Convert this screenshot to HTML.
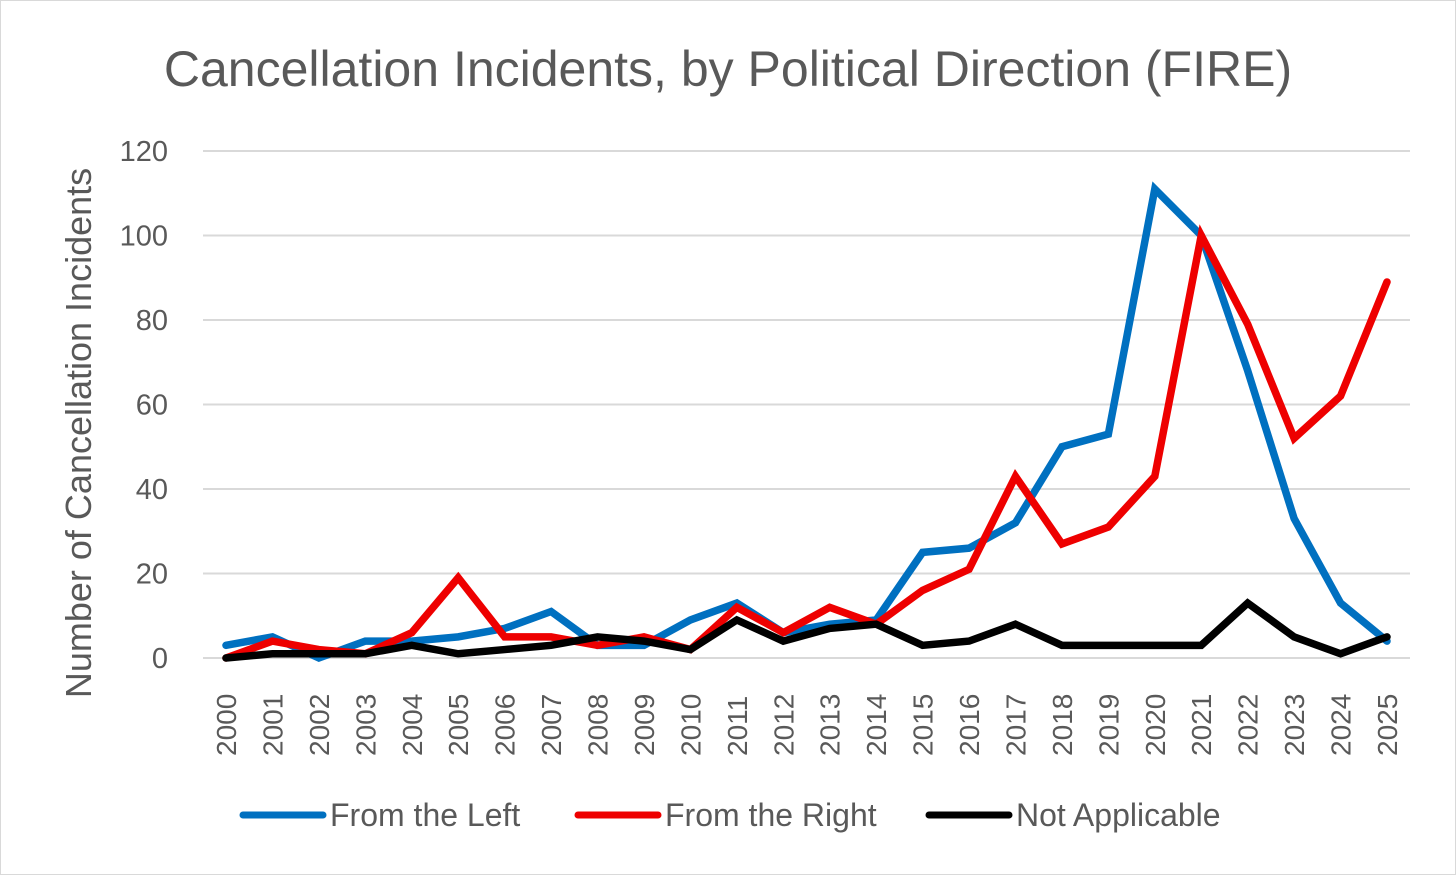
<!DOCTYPE html>
<html><head><meta charset="utf-8"><style>
html,body{margin:0;padding:0;background:#fff}
svg{display:block;font-family:"Liberation Sans",sans-serif}
</style></head><body>
<svg id="chart" width="1456" height="875" viewBox="0 0 1456 875">
<rect x="0.5" y="0.5" width="1455" height="874" fill="#fff" stroke="#d9d9d9"/>
<text x="728" y="86" text-anchor="middle" font-size="50" fill="#595959">Cancellation Incidents, by Political Direction (FIRE)</text>
<text transform="translate(91,433) rotate(-90)" text-anchor="middle" font-size="36" fill="#595959">Number of Cancellation Incidents</text>
<g id="grid"></g><g id="yt"></g><g id="xt"></g><g id="series"></g><g id="legend"></g>
</svg>
<script>
const years=[2000,2001,2002,2003,2004,2005,2006,2007,2008,2009,2010,2011,2012,2013,2014,2015,2016,2017,2018,2019,2020,2021,2022,2023,2024,2025];
const fromLeft=[3,5,0,4,4,5,7,11,3,3,9,13,6,8,9,25,26,32,50,53,111,100,68,33,13,4];
const fromRight=[0,4,2,1,6,19,5,5,3,5,2,12,6,12,8,16,21,43,27,31,43,100,79,52,62,89];
const notApplicable=[0,1,1,1,3,1,2,3,5,4,2,9,4,7,8,3,4,8,3,3,3,3,13,5,1,5];
const yTicks=[0,20,40,60,80,100,120];
const seriesNames=["From the Left","From the Right","Not Applicable"];
const NS="http://www.w3.org/2000/svg";
const x=i=>226+i*(1387-226)/(years.length-1);
const y=v=>658-v*(658-151)/120;
function mk(t,a,p){const e=document.createElementNS(NS,t);for(const k in a)e.setAttribute(k,a[k]);p.appendChild(e);return e;}
const grid=document.getElementById('grid'),yt=document.getElementById('yt'),xt=document.getElementById('xt'),ser=document.getElementById('series'),leg=document.getElementById('legend');
yTicks.forEach(v=>{
 const l=mk('line',{x1:203,x2:1410,y1:y(v),y2:y(v),stroke:'#d9d9d9','stroke-width':2},grid);
 
 
 const t=mk('text',{x:168,y:y(v)+10,'text-anchor':'end','font-size':29,fill:'#595959'},yt);
 t.textContent=v;
 
 
});
years.forEach((yr,i)=>{
 const t=mk('text',{transform:`translate(${x(i)+10},756) rotate(-90)`,'font-size':28,fill:'#595959'},xt);
 t.textContent=yr;
 
 
});
const data=[fromLeft,fromRight,notApplicable],cols=['#0070c0','#ee0000','#000000'],keys=['from-left','from-right','not-applicable'];
data.forEach((d,s)=>{
 const p=mk('polyline',{points:d.map((v,i)=>x(i)+','+y(v)).join(' '),fill:'none',stroke:cols[s],'stroke-width':7.5,'stroke-linejoin':'miter','stroke-linecap':'round'},ser);
 
 
});
const lx=[243,578,929];
seriesNames.forEach((n,s)=>{
 const g=mk('g',{},leg);
 
 
 mk('line',{x1:lx[s],x2:lx[s]+80,y1:815,y2:815,stroke:cols[s],'stroke-width':7,'stroke-linecap':'round'},g);
 const t=mk('text',{x:lx[s]+87,y:826,'font-size':32,fill:'#595959'},g);
 t.textContent=n;
});
</script>
</body></html>
